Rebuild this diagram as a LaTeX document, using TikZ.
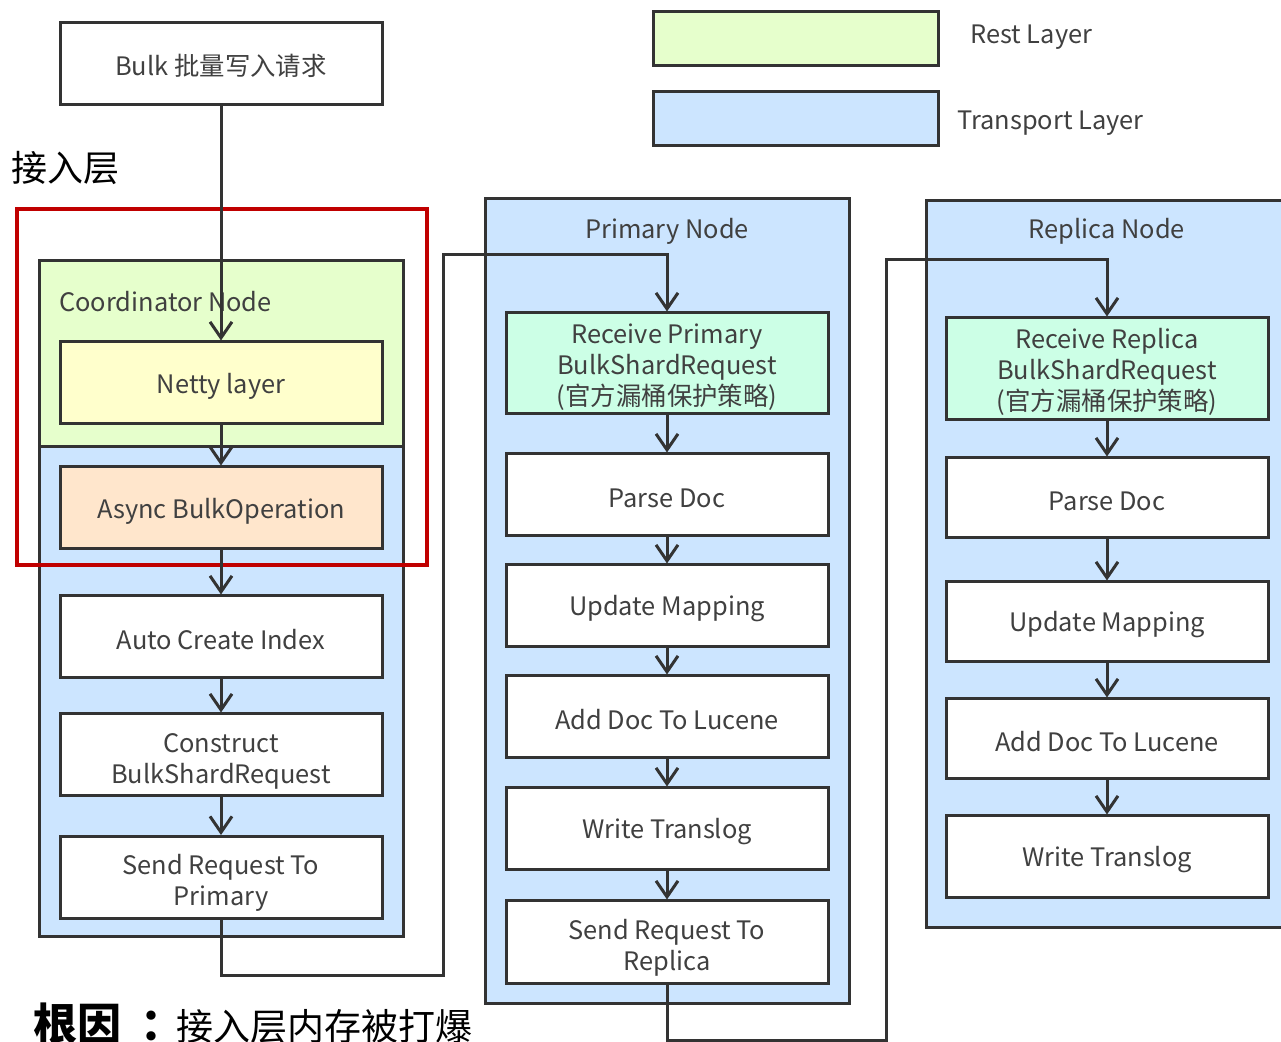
\documentclass[tikz,border=0pt]{standalone}
\usepackage{fontspec}
\setmainfont{Noto Sans CJK SC}
\usetikzlibrary{arrows.meta}
\definecolor{restc}{HTML}{E6FFCC}
\definecolor{transc}{HTML}{CCE5FF}
\definecolor{nettyc}{HTML}{FFFFCC}
\definecolor{asyncc}{HTML}{FFE6CC}
\definecolor{recvc}{HTML}{CCFFE6}
\definecolor{redc}{HTML}{C00000}
\definecolor{linec}{HTML}{333333}
\definecolor{txtc}{HTML}{404040}
\newcommand{\firstl}{\rule{0pt}{15.5pt}}
\newcommand{\firstm}{\rule{0pt}{13pt}}
\tikzset{
  ln/.style={draw=linec, line width=1.5pt},
  box/.style={ln, rectangle, minimum width=161pt, minimum height=41pt, inner sep=0pt, align=center,
    font=\fontsize{12.7pt}{15.5pt}\selectfont, text=txtc, fill=white,
    execute at begin node={\rule{0pt}{13pt}}},
  cont/.style={ln, rectangle, inner sep=0pt, fill=transc},
  ttl/.style={font=\fontsize{12.7pt}{15.5pt}\selectfont, text=txtc, inner sep=0pt},
  arr/.style={ln, -{Straight Barb[length=8pt,width=11pt,line width=1.5pt]}},
}
\begin{document}
\begin{tikzpicture}[x=0.5pt,y=-0.5pt]
\useasboundingbox (0,0) rectangle (1281,1042);
% legend
\node[cont, fill=restc, minimum width=142.5pt, minimum height=27pt] (lrest) at (795.5,39) {};
\node[cont, fill=transc, minimum width=142.5pt, minimum height=27pt] (ltrans) at (795.5,119) {};
\node[ttl, anchor=west] (trest) at (970,37) {Rest Layer};
\node[ttl, anchor=west] (ttrans) at (957,123) {Transport Layer};
% bulk
\node[box, minimum height=41pt] (bulk) at (221,64) {Bulk 批量写入请求};
\node[anchor=west, inner sep=0pt, font=\fontsize{18pt}{20pt}\selectfont] (jrc) at (11,168) {接入层};
% coordinator containers
\node[cont, fill=restc, minimum width=182pt, minimum height=93pt] (cgreen) at (221,354) {};
\node[cont, minimum width=182pt, minimum height=245pt] (cblue) at (221,692) {};
\node[ttl, anchor=west] (ctitle) at (59,302) {Coordinator Node};
\node[box, fill=nettyc] (netty) at (221,383) {Netty layer};
\node[box, fill=asyncc] (async) at (221,508) {Async BulkOperation};
\node[box] (aci) at (221,637) {Auto Create Index};
\node[box] (cbr) at (221,755) {\firstl Construct\\BulkShardRequest};
\node[box] (sp) at (221,877.5) {\firstl Send Request To\\Primary};
% primary
\node[cont, minimum width=182pt, minimum height=402pt] (pcont) at (667,601) {};
\node[ttl] (ptitle) at (667,231) {Primary Node};
\node[box, fill=recvc, minimum height=50.5pt] (rp) at (667,363.5) {\firstm Receive Primary\\BulkShardRequest\\(官方漏桶保护策略)};
\node[box] (pd1) at (667,495) {Parse Doc};
\node[box] (um1) at (667,606) {Update Mapping};
\node[box] (ad1) at (667,717) {Add Doc To Lucene};
\node[box] (wt1) at (667,829) {Write Translog};
\node[box] (sr) at (667,942) {\firstl Send Request To\\Replica};
% replica
\node[cont, minimum width=185pt, minimum height=363.5pt, anchor=north west] (rcont) at (925,199) {};
\node[ttl] (rtitle) at (1107,231) {Replica Node};
\node[box, fill=recvc, minimum height=51pt] (rr) at (1107,369) {\firstm Receive Replica\\BulkShardRequest\\(官方漏桶保护策略)};
\node[box, minimum height=40pt] (pd2) at (1107,498) {Parse Doc};
\node[box, minimum height=40pt] (um2) at (1107,622) {Update Mapping};
\node[box, minimum height=40pt] (ad2) at (1107,739) {Add Doc To Lucene};
\node[box] (wt2) at (1107,857) {Write Translog};
% red frame
\node[draw=redc, line width=2pt, rectangle, minimum width=205pt, minimum height=178pt, inner sep=0pt] (redf) at (222,387) {};
% connectors
\draw[arr] (bulk.south) -- (netty.north);
\draw[arr] (netty.south) -- (async.north);
\draw[arr] (async.south) -- (aci.north);
\draw[arr] (aci.south) -- (cbr.north);
\draw[arr] (cbr.south) -- (sp.north);
\coordinate (c1) at (443,975);
\coordinate (c2) at (443,255);
\draw[arr] (sp.south) |- (c1) -- (c2) -| (rp.north);
\draw[arr] (rp.south) -- (pd1.north);
\draw[arr] (pd1.south) -- (um1.north);
\draw[arr] (um1.south) -- (ad1.north);
\draw[arr] (ad1.south) -- (wt1.north);
\draw[arr] (wt1.south) -- (sr.north);
\coordinate (c3) at (886,1040);
\coordinate (c4) at (886,260);
\draw[arr] (sr.south) |- (c3) -- (c4) -| (rr.north);
\draw[arr] (rr.south) -- (pd2.north);
\draw[arr] (pd2.south) -- (um2.north);
\draw[arr] (um2.south) -- (ad2.north);
\draw[arr] (ad2.south) -- (wt2.north);
% root cause
\node[anchor=base west, inner sep=0pt, font=\fontsize{22pt}{24pt}\selectfont\bfseries] (gy) at (33,1040) {根因};
\node[anchor=base west, inner sep=0pt, font=\fontsize{22pt}{24pt}\selectfont\bfseries] (colon) at (140,1040) {：};
\node[anchor=base west, inner sep=0pt, font=\fontsize{18.5pt}{20pt}\selectfont] (rc) at (176,1040) {接入层内存被打爆};
\end{tikzpicture}
\end{document}
